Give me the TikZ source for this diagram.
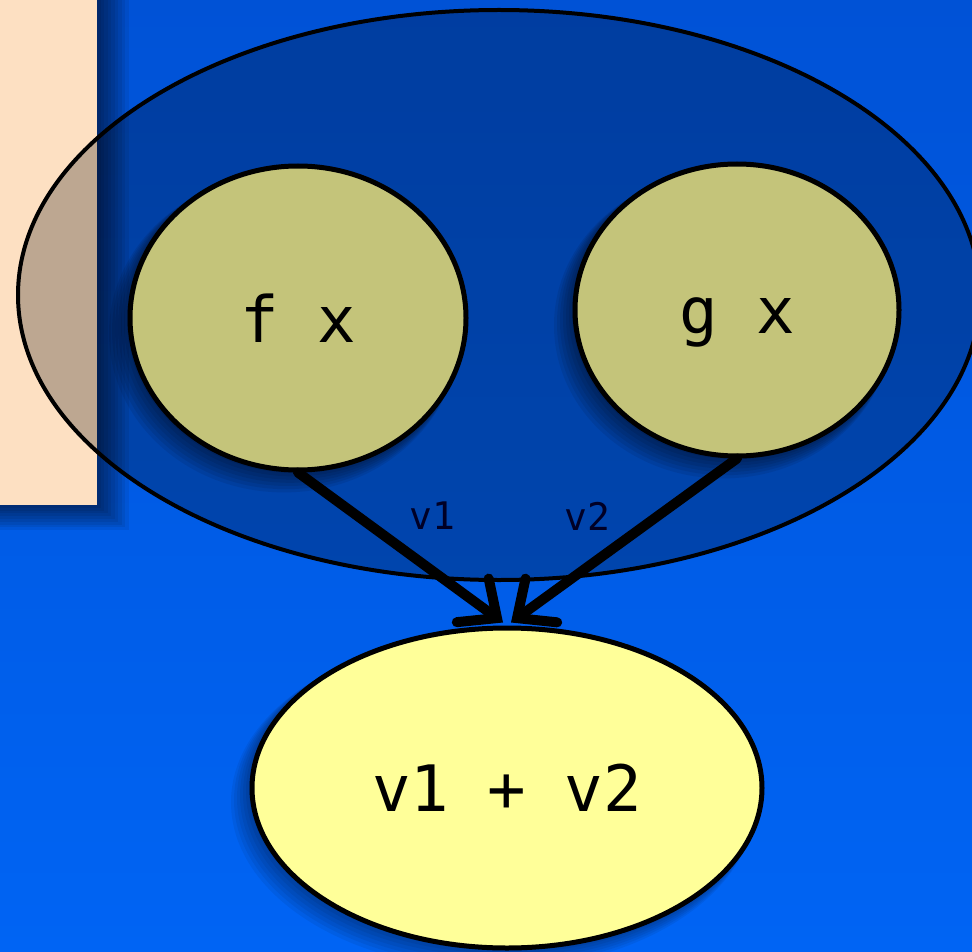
\documentclass[tikz,border=0pt]{standalone}
\usepackage{fontspec}
\setmonofont{DejaVu Sans Mono}
\usetikzlibrary{shapes.geometric,arrows.meta}
\definecolor{bgtop}{HTML}{0052D6}
\definecolor{bgbot}{HTML}{0064F4}
\definecolor{peach}{HTML}{FDE0C2}
\definecolor{olive}{HTML}{C4C47A}
\definecolor{lemon}{HTML}{FFFF99}
\tikzset{
  bubble/.style={ellipse, draw=black, line width=5pt, inner sep=0pt, font=\ttfamily\fontsize{64}{70}\selectfont},
  flow/.style={line width=10pt, line cap=round, -{Straight Barb[length=30pt,width=54pt,line cap=round]}},
  lbl/.style={font=\ttfamily\fontsize{38}{42}\selectfont, text=black!85!blue}
}
\begin{document}
\begin{tikzpicture}[x=1pt,y=-1pt]
\useasboundingbox (0,0) rectangle (972,952);
\shade[top color=bgtop, bottom color=bgbot] (0,0) rectangle (972,952);
% shadow of the peach panel
\foreach \i in {1,...,9}{
  \fill[black, opacity=0.07] (0,0) rectangle (97+3.5*\i, 505+2.8*\i);
}
\fill[peach] (0,0) rectangle (97,505);
% shadows of bubbles
\foreach \i in {1,...,7}{
  \fill[black, opacity=0.08] (298-2*\i,318+2.2*\i) ellipse [x radius=168+\i, y radius=152+\i];
  \fill[black, opacity=0.08] (737-2*\i,310+2.2*\i) ellipse [x radius=162+\i, y radius=146+\i];
  \fill[black, opacity=0.06] (507-2*\i,787+2.2*\i) ellipse [x radius=255+\i, y radius=160+\i];
}
% group ellipse
\node[ellipse, draw=black, line width=4pt, fill=black, fill opacity=0.25, inner sep=0pt,
      minimum width=962pt, minimum height=570pt] (grp) at (499,295) {};
\node[bubble, fill=olive, minimum width=336pt, minimum height=304pt] (fx) at (298,318) {f x};
\node[bubble, fill=olive, minimum width=324pt, minimum height=292pt] (gx) at (737,310) {\raisebox{-12pt}[\height][\depth]{g x}};
\node[bubble, fill=lemon, minimum width=510pt, minimum height=320pt] (sum) at (507,788) {v1 + v2};
\draw[flow] (fx.south) -- ([xshift=-4pt,yshift=3pt]sum.north);
\draw[flow] (gx.south) -- ([xshift=4pt,yshift=3pt]sum.north);
\node[lbl] (l1) at (432,516) {v1};
\node[lbl] (l2) at (587,516) {v2};
\end{tikzpicture}
\end{document}
